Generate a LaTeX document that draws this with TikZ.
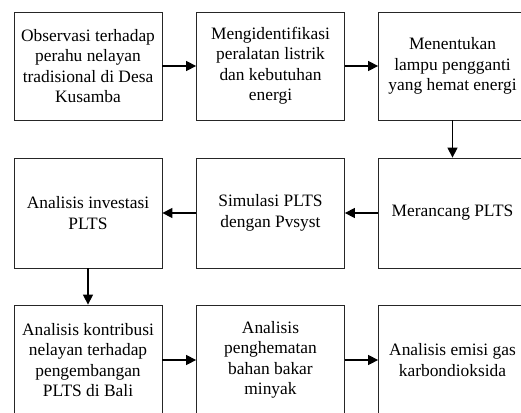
\documentclass[tikz,border=0pt]{standalone}
\usepackage{fontspec}
\setmainfont{Liberation Serif}
\usetikzlibrary{arrows.meta}
\begin{document}
\begin{tikzpicture}[x=1pt,y=-1pt,
  stepbox/.style={draw=black!85,line width=0.8pt,rectangle,minimum width=148pt,
    inner sep=0pt,align=center,font=\fontsize{17.4}{20.5}\selectfont},
  conn/.style={line width=1.4pt,-{Triangle[length=10pt,width=10pt]}}]
\useasboundingbox (0,0) rectangle (521,412);
\clip (0,0) rectangle (521,412);
\fill[white] (0,0) rectangle (521,412);
\node[stepbox,minimum height=108pt] (b1) at (88,66) {Observasi terhadap\\perahu nelayan\\tradisional di Desa\\Kusamba};
\node[stepbox,minimum height=108pt] (b2) at (270.5,66) {Mengidentifikasi\\peralatan listrik\\dan kebutuhan\\energi};
\node[stepbox,minimum height=108pt] (b3) at (452.5,66) {Menentukan\\lampu pengganti\\yang hemat energi};
\node[stepbox,minimum height=110pt] (b4) at (88,213) {Analisis investasi\\PLTS};
\node[stepbox,minimum height=110pt] (b5) at (270.5,213) {Simulasi PLTS\\dengan Pvsyst};
\node[stepbox,minimum height=110pt] (b6) at (452.5,213) {Merancang PLTS};
\node[stepbox,minimum height=110pt] (b7) at (88,360) {Analisis kontribusi\\nelayan terhadap\\pengembangan\\PLTS di Bali};
\node[stepbox,minimum height=110pt] (b8) at (270.5,360) {Analisis\\penghematan\\bahan bakar\\minyak};
\node[stepbox,minimum height=110pt] (b9) at (452.5,360) {Analisis emisi gas\\karbondioksida};
\draw[conn] (b1.east) -- (b2.west);
\draw[conn] (b2.east) -- (b3.west);
\draw[conn] (b3.south) -- (b6.north);
\draw[conn] (b6.west) -- (b5.east);
\draw[conn] (b5.west) -- (b4.east);
\draw[conn] (b4.south) -- (b7.north);
\draw[conn] (b7.east) -- (b8.west);
\draw[conn] (b8.east) -- (b9.west);
\end{tikzpicture}
\end{document}
